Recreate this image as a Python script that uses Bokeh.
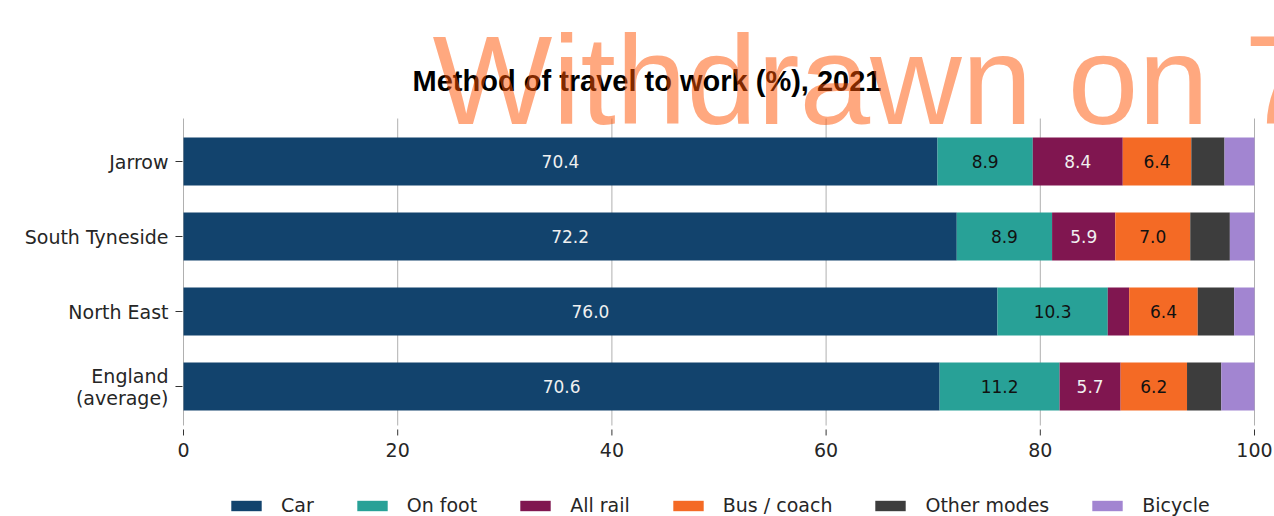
from bokeh.plotting import figure
from bokeh.models import Range1d, Label, Legend, LegendItem, ColumnDataSource
from bokeh.core.properties import value
from bokeh.embed import file_html
from bokeh.resources import INLINE

# ---- data ----
areas = ["England\n(average)", "North East", "South Tyneside", "Jarrow"]
car = [70.6, 76.0, 72.2, 70.4]
on_foot = [11.2, 10.3, 8.9, 8.9]
all_rail = [5.7, 2.0, 5.9, 8.4]
bus_coach = [6.2, 6.4, 7.0, 6.4]
other_modes = [3.2, 3.4, 3.7, 3.1]
bicycle = [3.1, 1.9, 2.3, 2.8]
modes = ["Car", "On foot", "All rail", "Bus / coach", "Other modes", "Bicycle"]
colors = ["#12436D", "#28A197", "#801650", "#F46A25", "#3D3D3D", "#A285D1"]
label_colors = ["#f0f0f0", "#111111", "#f0f0f0", "#111111", "#f0f0f0", "#111111"]
title_text = "Method of travel to work (%), 2021"
watermark_text = "Withdrawn on 7"
x_ticks = [0, 20, 40, 60, 80, 100]

series = [car, on_foot, all_rail, bus_coach, other_modes, bicycle]
keys = ["car", "on_foot", "all_rail", "bus_coach", "other_modes", "bicycle"]
ys = list(range(len(areas)))

W, H = 1274, 516
# frame spans the whole canvas; ranges chosen so that 0..100 sits at x=183..1254
px_x = 10.71
px_y = 75.0
x0 = -183 / px_x
x1 = 100 + (W - 1254) / px_x
y1 = 386 / px_y
y0 = -(H - 386) / px_y

p = figure(width=W, height=H, output_backend="svg", toolbar_location=None,
           x_range=Range1d(x0, x1), y_range=Range1d(y0, y1),
           min_border=0, x_axis_type=None, y_axis_type=None)
p.outline_line_color = None
p.background_fill_color = "white"
p.border_fill_color = "white"
p.xgrid.visible = False
p.ygrid.visible = False

grid_bottom = -0.52
grid_top = 3.573

# vertical grid lines
p.segment(x0=x_ticks, x1=x_ticks, y0=[grid_bottom] * len(x_ticks), y1=[grid_top] * len(x_ticks),
          line_color="#b0b0b0", line_width=1)

data = {"y": ys}
for k, s in zip(keys, series):
    data[k] = s
src = ColumnDataSource(data)
rends = p.hbar_stack(keys, y="y", height=0.64, color=colors, source=src, line_color=None)

# value labels
tx, ty, tt, tc = [], [], [], []
for i in range(len(areas)):
    left = 0.0
    for j, s in enumerate(series):
        v = s[i]
        if v >= 5:
            tx.append(left + v / 2)
            ty.append(ys[i])
            tt.append(f"{v:.1f}")
            tc.append(label_colors[j])
        left += v
p.text(x=tx, y=ty, text=tt, text_color=tc, text_align="center", text_baseline="middle",
       text_font=value("DejaVu Sans"), text_font_size="17px")

# x axis (ticks + labels)
p.segment(x0=x_ticks, x1=x_ticks, y0=[-0.573] * len(x_ticks), y1=[-0.653] * len(x_ticks),
          line_color="#333333", line_width=1)
p.text(x=x_ticks, y=[-0.853] * len(x_ticks), text=[str(t) for t in x_ticks],
       text_align="center", text_baseline="middle", text_color="#262626",
       text_font=value("DejaVu Sans"), text_font_size="19px")

# y axis (ticks + labels)
p.segment(x0=[-0.747] * len(ys), x1=[-0.093] * len(ys), y0=ys, y1=ys,
          line_color="#333333", line_width=1)
p.text(x=[-1.40] * len(ys), y=ys, text=areas, text_align="right", text_baseline="middle",
       text_color="#262626", text_font=value("DejaVu Sans"), text_font_size="19px",
       text_line_height=1.0)

# legend
legend = Legend(items=[LegendItem(label=m, renderers=[r]) for m, r in zip(modes, rends)],
                orientation="horizontal", location=(227, 0),
                glyph_width=38, glyph_height=13, label_standoff=16, spacing=39,
                padding=0, margin=0, border_line_color=None, background_fill_alpha=0,
                label_text_font="DejaVu Sans", label_text_font_size="19px",
                label_text_color="#262626")
p.add_layout(legend)

# title and watermark
title = Label(x=43.28, y=4.08, text=title_text, text_align="center", text_baseline="middle",
              text_font="Liberation Sans", text_font_style="bold", text_font_size="29px",
              text_color="black")
p.add_layout(title)
wm = Label(x=23.25, y=4.087, text=watermark_text, text_align="left", text_baseline="middle",
           text_font="Liberation Sans", text_font_size="127px", text_color="#ff5200",
           text_alpha=0.5, level="overlay")
p.add_layout(wm)

open("out.html", "w").write(file_html(p, INLINE))
